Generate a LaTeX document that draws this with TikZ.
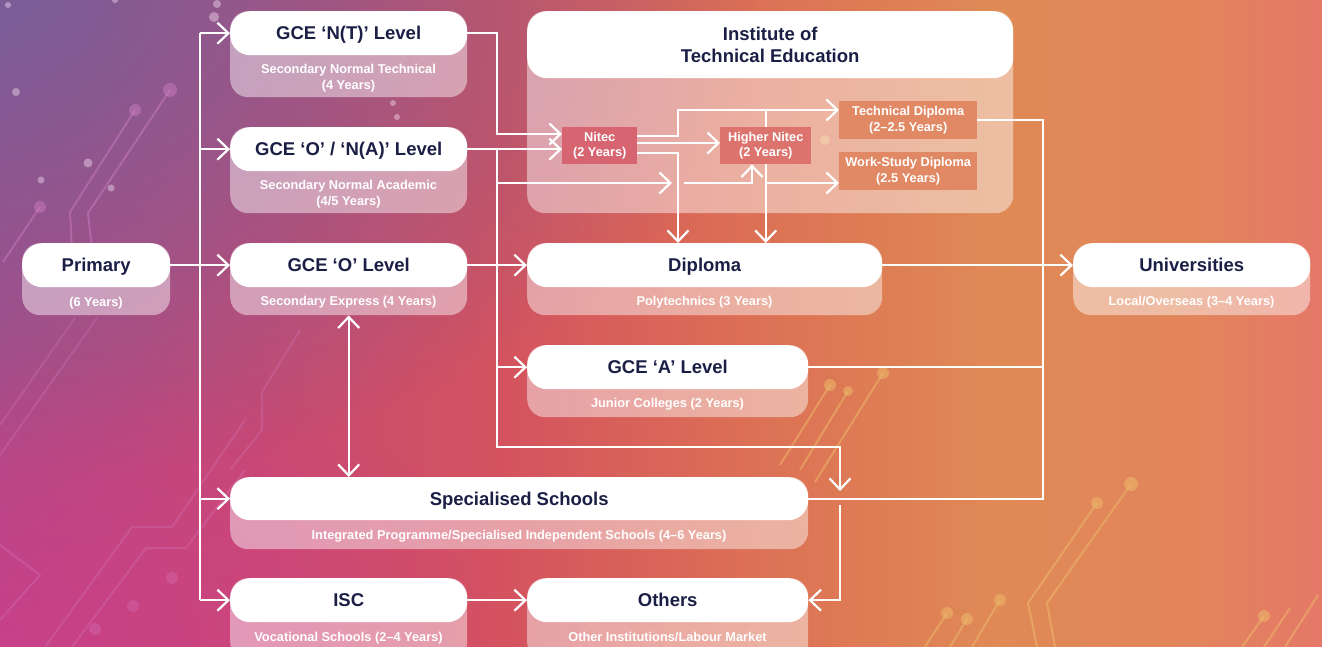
\documentclass[tikz,border=0pt]{standalone}
\usepackage{fontspec}
\setmainfont{Liberation Sans}
\usetikzlibrary{arrows.meta,fadings}

\definecolor{titleink}{HTML}{1B1F45}
\definecolor{purpleglow}{HTML}{6C629C}
\definecolor{magentaglow}{HTML}{DC388D}
\definecolor{nitecfill}{HTML}{D65F6D}
\definecolor{hnitecfill}{HTML}{DC6E69}
\definecolor{dipfill}{HTML}{E1855F}
\definecolor{tracepink}{HTML}{D884CC}
\definecolor{traceyellow}{HTML}{EDBE6C}
\definecolor{dotwhite}{HTML}{F2DCEE}

% left-to-right sweep of the backdrop (purple-pink -> red -> orange)
\pgfdeclarehorizontalshading{bgsweep}{100bp}{%
  rgb(0bp)=(0.690,0.290,0.525);
  rgb(25bp)=(0.690,0.290,0.525);
  rgb(34.5bp)=(0.776,0.290,0.455);
  rgb(43.9bp)=(0.831,0.322,0.373);
  rgb(53.4bp)=(0.863,0.439,0.333);
  rgb(62.8bp)=(0.878,0.541,0.337);
  rgb(70.4bp)=(0.886,0.518,0.361);
  rgb(75bp)=(0.898,0.471,0.408);
  rgb(100bp)=(0.898,0.471,0.408)}

\tikzfading[name=softglow, inner color=transparent!0, outer color=transparent!100]

\tikzset{
  wire/.style={draw=white, line width=2.2pt},
  arrowlink/.style={wire, -{Straight Barb[length=11pt,width=21pt]}},
  twoway/.style={wire, {Straight Barb[length=11pt,width=21pt]}-{Straight Barb[length=11pt,width=21pt]}},
  basebox/.style={fill=white, fill opacity=0.45, rounded corners=18pt, inner sep=0pt,
    anchor=north west, minimum height=72pt},
  headplain/.style={fill=white, rounded corners=20pt, inner sep=0pt, anchor=north west,
    text=titleink, font=\fontsize{18.5}{22.5}\selectfont\bfseries},
  headbox/.style={headplain, minimum height=44pt, text height=13.3pt, text depth=0pt},
  subline/.style={text=white, font=\fontsize{12.8}{16}\selectfont\bfseries, align=center, inner sep=0pt},
  subsingle/.style={subline, text height=9.2pt, text depth=0pt},
  itecell/.style={inner sep=0pt, anchor=north west, text=white, align=center,
    font=\fontsize{12.8}{15.5}\selectfont\bfseries, fill opacity=0.92, text opacity=1},
  bgtrace/.style={line width=2pt, opacity=0.4},
}

\begin{document}
\begin{tikzpicture}[x=1pt,y=-1pt]
\useasboundingbox (0,0) rectangle (1322,647);
\begin{scope}
\clip (0,0) rectangle (1322,647);

% ---------- backdrop ----------
\shade[shading=bgsweep] (0,0) rectangle (1322,647);
\fill[purpleglow, path fading=softglow, fill opacity=0.8] (0,0) ellipse [x radius=760pt, y radius=480pt];
\fill[magentaglow, path fading=softglow, fill opacity=0.55] (0,647) ellipse [x radius=520pt, y radius=300pt];

% circuit traces, upper left
\begin{scope}[bgtrace, draw=tracepink, fill=tracepink]
  \draw (135,110) -- (70,212) -- (72,250);
  \draw (170,90) -- (88,213) -- (92,250);
  \draw (40,207) -- (3,262);
  \fill (135,110) circle[radius=6pt];
  \fill (170,90) circle[radius=7pt];
  \fill (40,207) circle[radius=6pt];
\end{scope}
% faint traces, lower left
\begin{scope}[bgtrace, draw=tracepink, fill=tracepink, opacity=0.25]
  \draw (75,318) -- (0,425);
  \draw (97,318) -- (0,455);
  \draw (245,420) -- (172,527) -- (132,527) -- (45,647);
  \draw (245,470) -- (186,548) -- (146,548) -- (72,647);
  \draw (0,545) -- (40,575) -- (0,620);
  \draw (300,330) -- (262,392) -- (262,430) -- (230,470);
  \fill (172,578) circle[radius=6pt];
  \fill (133,606) circle[radius=6pt];
  \fill (95,629) circle[radius=6pt];
\end{scope}
\begin{scope}[fill=dotwhite, opacity=0.45]
  \fill (16,92) circle[radius=4pt];
  \fill (88,163) circle[radius=4.5pt];
  \fill (41,180) circle[radius=3.5pt];
  \fill (111,188) circle[radius=3.5pt];
  \fill (217,4) circle[radius=4pt];
  \fill (214,17) circle[radius=5pt];
  \fill (8,5) circle[radius=3pt];
  \fill (115,0) circle[radius=3pt];
  \fill (393,103) circle[radius=3pt];
  \fill (397,117) circle[radius=3pt];
\end{scope}

% circuit traces, right half
\begin{scope}[bgtrace, draw=traceyellow, fill=traceyellow, opacity=0.5]
  \draw (830,385) -- (780,465);
  \draw (848,391) -- (800,470);
  \draw (883,373) -- (815,482);
  \fill (830,385) circle[radius=6pt];
  \fill (848,391) circle[radius=5pt];
  \fill (883,373) circle[radius=6pt];
  \draw (1131,484) -- (1047,603) -- (1055,647);
  \draw (1097,503) -- (1028,603) -- (1037,647);
  \fill (1131,484) circle[radius=7pt];
  \fill (1097,503) circle[radius=6pt];
  \draw (947,613) -- (925,647);
  \draw (967,619) -- (950,647);
  \draw (1000,600) -- (972,647);
  \fill (947,613) circle[radius=6pt];
  \fill (967,619) circle[radius=6pt];
  \fill (1000,600) circle[radius=6pt];
  \draw (1264,616) -- (1242,647);
  \fill (1264,616) circle[radius=6pt];
  \draw (1290,608) -- (1264,647);
  \draw (1318,595) -- (1285,647);
  \fill (800,152) circle[radius=5pt];
  \fill (825,140) circle[radius=5pt];
  \fill (850,128) circle[radius=6pt];
\end{scope}

% ---------- translucent bases ----------
\node[basebox, minimum width=148pt] (primary-base) at (22,243) {};
\node[basebox, minimum width=237pt, minimum height=86pt] (nt-base) at (230,11) {};
\node[basebox, minimum width=237pt, minimum height=86pt] (ona-base) at (230,127) {};
\node[basebox, minimum width=237pt] (ol-base) at (230,243) {};
\node[basebox, minimum width=486pt, minimum height=202pt] (ite-base) at (527,11) {};
\node[basebox, minimum width=355pt] (dip-base) at (527,243) {};
\node[basebox, minimum width=281pt] (alev-base) at (527,345) {};
\node[basebox, minimum width=237pt] (uni-base) at (1073,243) {};
\node[basebox, minimum width=578pt] (spec-base) at (230,477) {};
\node[basebox, minimum width=237pt, minimum height=82pt] (isc-base) at (230,578) {};
\node[basebox, minimum width=281pt, minimum height=82pt] (others-base) at (527,578) {};

% ---------- headers ----------
\node[headbox, minimum width=148pt] (primary) at (22,243) {Primary};
\node[headbox, minimum width=237pt] (nt) at (230,11) {GCE ‘N(T)’ Level};
\node[headbox, minimum width=237pt] (ona) at (230,127) {GCE ‘O’ / ‘N(A)’ Level};
\node[headbox, minimum width=237pt] (ol) at (230,243) {GCE ‘O’ Level};
\node[headplain, minimum width=486pt, minimum height=67pt, align=center] (ite) at (527,11) {Institute of\\Technical Education};
\node[headbox, minimum width=355pt] (dip) at (527,243) {Diploma};
\node[headbox, minimum width=281pt] (alev) at (527,345) {GCE ‘A’ Level};
\node[headbox, minimum width=237pt] (uni) at (1073,243) {Universities};
\node[headbox, minimum width=578pt, minimum height=43pt] (spec) at (230,477) {Specialised Schools};
\node[headbox, minimum width=237pt] (isc) at (230,578) {ISC};
\node[headbox, minimum width=281pt] (others) at (527,578) {Others};

% ---------- ITE courses ----------
\node[itecell, fill=nitecfill, minimum width=75pt, minimum height=37pt] (nitec) at (562,127) {Nitec\\(2 Years)};
\node[itecell, fill=hnitecfill, minimum width=91pt, minimum height=37pt] (hnitec) at (720,127) {Higher Nitec\\(2 Years)};
\node[itecell, fill=dipfill, minimum width=138pt, minimum height=38pt] (tdip) at (839,101) {Technical Diploma\\(2–2.5 Years)};
\node[itecell, fill=dipfill, minimum width=138pt, minimum height=38pt] (wsd) at (839,152) {Work-Study Diploma\\(2.5 Years)};

% ---------- sub-captions ----------
\node[subsingle] (primary-note) at (96,301.5) {(6 Years)};
\node[subline] (nt-note) at (348.5,78.5) {Secondary Normal Technical\\(4 Years)};
\node[subline] (ona-note) at (348.5,194.5) {Secondary Normal Academic\\(4/5 Years)};
\node[subsingle] (ol-note) at (348.5,301) {Secondary Express (4 Years)};
\node[subsingle] (dip-note) at (704.5,301) {Polytechnics (3 Years)};
\node[subsingle] (alev-note) at (667.5,403) {Junior Colleges (2 Years)};
\node[subsingle] (uni-note) at (1191.5,301) {Local/Overseas (3–4 Years)};
\node[subsingle] (spec-note) at (519,534.5) {Integrated Programme/Specialised Independent Schools (4–6 Years)};
\node[subsingle] (isc-note) at (348.5,637) {Vocational Schools (2–4 Years)};
\node[subsingle] (others-note) at (667.5,637) {Other Institutions/Labour Market};

% ---------- routing rails and levels ----------
\coordinate (railL) at (200,0);
\coordinate (railM) at (497,0);
\coordinate (railN) at (678,0);
\coordinate (railH) at (752,0);
\coordinate (railS) at (840,0);
\coordinate (railR) at (1043,0);
\coordinate (yTD) at (0,110);
\coordinate (yNT) at (0,134);
\coordinate (yUp) at (0,136);
\coordinate (yHN) at (0,143);
\coordinate (yDown) at (0,153);
\coordinate (yCross) at (0,183);
\coordinate (yLoop) at (0,447);
\coordinate (crossStop) at (672,183);
\coordinate (crossGo) at (684,183);
\coordinate (loopStop) at (840,491);
\coordinate (loopGo) at (840,505);

% ---------- connectors ----------
% from Primary into secondary
\draw[wire] (railL |- nt.west) -- (railL |- isc.west);
\draw[arrowlink] (primary.east) -- (ol.west);
\draw[arrowlink] (railL |- nt.west) -- (nt.west);
\draw[arrowlink] (railL |- ona.west) -- (ona.west);
\draw[arrowlink] (railL |- spec.west) -- (spec.west);
\draw[arrowlink] (railL |- isc.west) -- (isc.west);
\draw[twoway] (ol-base.south) -- (ol-base.south |- spec.north);

% secondary into ITE / post-secondary
\draw[arrowlink] (nt.east) -- (railM |- nt.east) -- (railM |- yNT) -- (nitec.west |- yNT);
\draw[arrowlink] (ona.east) -- (nitec.west |- ona.east);
\draw[arrowlink] (railM |- ona.east) -- (railM |- yLoop) -- (railS |- yLoop) -- (loopStop);
\draw[arrowlink] (loopGo) -- (railS |- others.east) -- (others.east);
\draw[arrowlink] (railM |- yCross) -- (crossStop);
\draw[arrowlink] (crossGo) -- (railH |- yCross) -- (railH |- hnitec.south);
\draw[arrowlink] (ol.east) -- (dip.west);
\draw[arrowlink] (railM |- alev.west) -- (alev.west);
\draw[arrowlink] (isc.east) -- (others.west);

% inside ITE
\draw[arrowlink] (nitec.east |- yUp) -- (railN |- yUp) -- (railN |- yTD) -- (tdip.west |- yTD);
\draw[arrowlink] (nitec.east |- yHN) -- (hnitec.west |- yHN);
\draw[arrowlink] (nitec.east |- yDown) -- (railN |- yDown) -- (railN |- dip.north);
\draw[wire] (hnitec.north) -- (hnitec.north |- yTD);
\draw[arrowlink] (hnitec.south) -- (hnitec.south |- dip.north);
\draw[arrowlink] (hnitec.south |- yCross) -- (wsd.west |- yCross);

% towards universities
\draw[wire] (tdip.east) -- (railR |- tdip.east) -- (railR |- spec.east) -- (spec.east);
\draw[wire] (alev.east) -- (railR |- alev.east);
\draw[arrowlink] (dip.east) -- (uni.west);

\end{scope}
\end{tikzpicture}
\end{document}
